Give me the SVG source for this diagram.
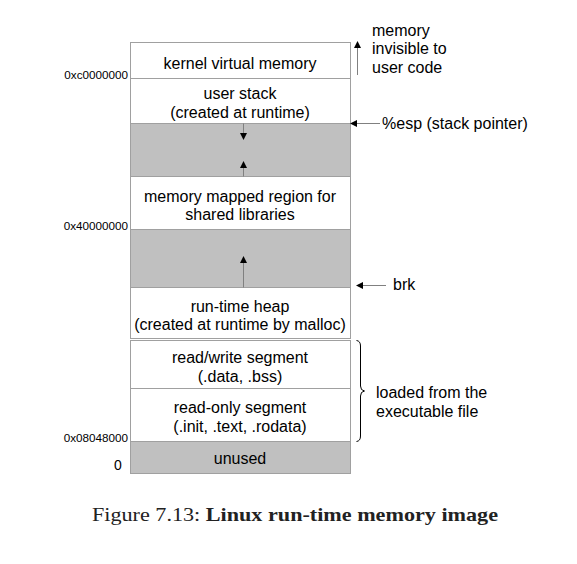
<svg xmlns="http://www.w3.org/2000/svg" width="577" height="564" viewBox="0 0 577 564">
<style>
.box{stroke:#a0a0a0;stroke-width:1}
.w{fill:#fff}
.g{fill:#c0c0c0}
.t{font-family:"Liberation Sans",Arial,sans-serif;font-size:16px;fill:#000;text-anchor:middle}
.l{font-family:"Liberation Sans",Arial,sans-serif;font-size:16px;fill:#000}
.a{font-family:"Liberation Sans",Arial,sans-serif;font-size:11.7px;fill:#000;text-anchor:end}
.ln{stroke:#808080;stroke-width:1;fill:none}
.hd{fill:#000}
</style>
<rect width="577" height="564" fill="#fff"/>
<g id="kernel"><rect class="box w" x="130.5" y="42.5" width="220" height="36"/><text class="t" x="240" y="68.5">kernel virtual memory</text></g>
<g id="userstack"><rect class="box w" x="130.5" y="78.5" width="220" height="45"/><text class="t" x="240" y="98.5">user stack</text><text class="t" x="240" y="117.5">(created at runtime)</text></g>
<g id="gap1"><rect class="box g" x="130.5" y="123.5" width="220" height="53"/></g>
<g id="mmap"><rect class="box w" x="130.5" y="176.5" width="220" height="53"/><text class="t" x="240" y="201.5">memory mapped region for</text><text class="t" x="240" y="220">shared libraries</text></g>
<g id="gap2"><rect class="box g" x="130.5" y="229.5" width="220" height="58"/></g>
<g id="heap"><rect class="box w" x="130.5" y="287.5" width="220" height="51"/><text class="t" x="240" y="312">run-time heap</text><text class="t" x="240" y="330">(created at runtime by malloc)</text></g>
<g id="rw"><rect class="box w" x="130.5" y="340.5" width="220" height="48"/><text class="t" x="240" y="363">read/write segment</text><text class="t" x="240" y="382">(.data, .bss)</text></g>
<g id="ro"><rect class="box w" x="130.5" y="388.5" width="220" height="53"/><text class="t" x="240" y="413">read-only segment</text><text class="t" x="240" y="432">(.init, .text, .rodata)</text></g>
<g id="unused"><rect class="box g" x="130.5" y="441.5" width="220" height="32"/><text class="t" x="240" y="464">unused</text></g>
<g id="addresses">
<text class="a" x="128" y="79">0xc0000000</text>
<text class="a" x="128" y="230">0x40000000</text>
<text class="a" x="128" y="442">0x08048000</text>
<text class="l" x="114" y="470" style="font-size:14px">0</text>
</g>
<g id="connectors">
<line class="ln" x1="243.5" y1="123.5" x2="243.5" y2="133"/>
<polygon class="hd" points="240,133 247,133 243.5,140"/>
<line class="ln" x1="243.5" y1="168" x2="243.5" y2="176.5"/>
<polygon class="hd" points="240,168 247,168 243.5,161"/>
<line class="ln" x1="243.5" y1="263" x2="243.5" y2="287.5"/>
<polygon class="hd" points="240,263 247,263 243.5,256"/>
<line class="ln" x1="357.5" y1="75" x2="357.5" y2="48"/>
<polygon class="hd" points="354,48 361,48 357.5,41"/>
<line class="ln" x1="380" y1="123.5" x2="357" y2="123.5"/>
<polygon class="hd" points="357,120 357,127 350,123.5"/>
<line class="ln" x1="386" y1="285.5" x2="363" y2="285.5"/>
<polygon class="hd" points="363,282 363,289 356,285.5"/>
<path d="M356.5,340.5 Q360.5,341 360.5,346 L360.5,386 Q360.5,390.5 364.5,391 Q360.5,391.5 360.5,396 L360.5,436 Q360.5,441 356.5,441.5" fill="none" stroke="#000" stroke-width="1"/>
</g>
<g id="labels">
<text class="l" x="372" y="36">memory</text>
<text class="l" x="372" y="54">invisible to</text>
<text class="l" x="372" y="73">user code</text>
<text class="l" x="382" y="129">%esp (stack pointer)</text>
<text class="l" x="393" y="290">brk</text>
<text class="l" x="376" y="398">loaded from the</text>
<text class="l" x="376" y="417">executable file</text>
</g>
<text x="92" y="521" textLength="406" lengthAdjust="spacingAndGlyphs" style="font-family:'Liberation Serif','Times New Roman',serif;font-size:19px;fill:#222">Figure 7.13: <tspan font-weight="bold">Linux run-time memory image</tspan></text>
</svg>
